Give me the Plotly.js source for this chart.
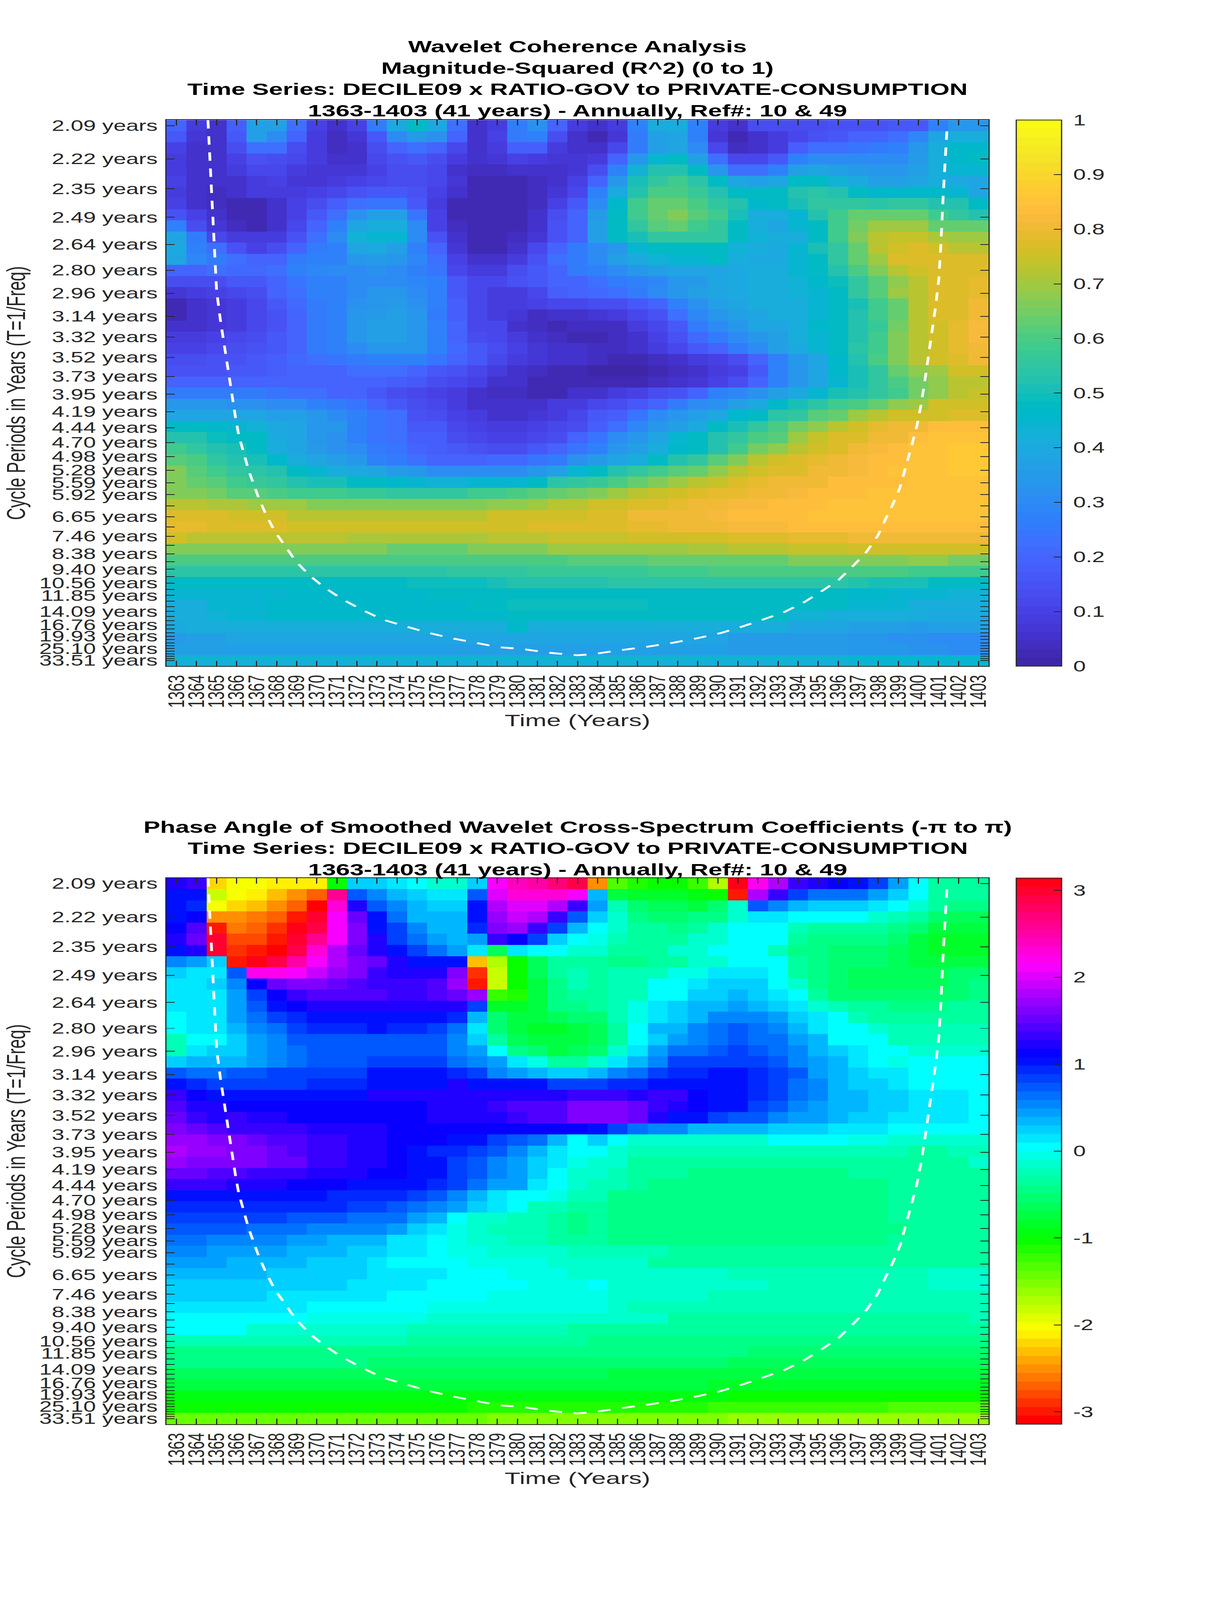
<!DOCTYPE html>
<html><head><meta charset="utf-8">
<script src="https://cdn.plot.ly/plotly-3.0.1.min.js"></script>
<style>html,body{margin:0;padding:0;background:#fff;overflow:hidden}#chart{width:3125px;height:6252px;transform-origin:0 0}</style>
</head><body><div id="chart"></div>
<script>
const years=[1363,1364,1365,1366,1367,1368,1369,1370,1371,1372,1373,1374,1375,1376,1377,1378,1379,1380,1381,1382,1383,1384,1385,1386,1387,1388,1389,1390,1391,1392,1393,1394,1395,1396,1397,1398,1399,1400,1401,1402,1403];
const tickPeriods=[2.09,2.22,2.35,2.49,2.64,2.80,2.96,3.14,3.32,3.52,3.73,3.95,4.19,4.44,4.70,4.98,5.28,5.59,5.92,6.27,6.65,7.05,7.46,7.91,8.38,8.88,9.40,9.96,10.56,11.19,11.85,12.55,13.30,14.09,14.93,15.82,16.76,17.75,18.81,19.93,21.11,22.37,23.70,25.10,26.60,28.18,29.85,31.63,33.51];
const tickLabels=['2.09 years','2.22 years','2.35 years','2.49 years','2.64 years','2.80 years','2.96 years','3.14 years','3.32 years','3.52 years','3.73 years','3.95 years','4.19 years','4.44 years','4.70 years','4.98 years','5.28 years','5.59 years','5.92 years','','6.65 years','','7.46 years','','8.38 years','','9.40 years','','10.56 years','','11.85 years','','','14.09 years','','','16.76 years','','','19.93 years','','','','25.10 years','','','','','33.51 years'];
const coiYears=[1364.57,1364.70,1364.86,1365.00,1365.19,1365.46,1365.70,1365.95,1366.10,1366.32,1366.59,1366.85,1367.12,1367.45,1367.90,1368.42,1368.93,1369.63,1370.35,1371.25,1372.20,1373.26,1374.31,1375.44,1376.65,1377.85,1379.08,1380.17,1381.58,1382.98,1383.72,1385.12,1386.43,1387.73,1389.04,1390.15,1391.18,1392.20,1393.33,1394.34,1395.27,1396.03,1396.78,1397.42,1397.98,1398.35,1398.72,1399.09,1399.39,1399.66,1399.93,1400.13,1400.32,1400.50,1400.69,1400.87,1401.02,1401.12,1401.24,1401.33,1401.43];
const coiPeriods=[2.07,2.28,2.63,2.94,3.17,3.50,3.86,4.29,4.56,4.85,5.27,5.63,6.05,6.54,7.24,7.94,8.81,9.87,10.94,12.27,13.72,15.55,16.95,18.66,20.5,22.2,24.4,25.2,27.5,29.2,28.5,26.0,24.2,22.4,20.5,18.9,17.2,15.65,14.16,12.64,11.24,10.25,9.11,8.26,7.43,6.76,6.23,5.71,5.19,4.77,4.41,4.10,3.79,3.52,3.27,3.05,2.86,2.65,2.38,2.23,2.10];
const coherence=[
[.2,.08,.05,.18,.36,.36,.22,.1,.05,.1,.25,.4,.47,.4,.23,.06,.09,.25,.32,.2,.09,.05,.09,.27,.42,.42,.27,.08,.05,.13,.14,.14,.14,.15,.15,.15,.16,.16,.27,.33,.34],
[.16,.07,.05,.17,.36,.3,.2,.09,.04,.07,.17,.3,.35,.32,.2,.06,.1,.26,.27,.13,.05,.03,.07,.26,.37,.38,.27,.07,.03,.06,.08,.12,.15,.17,.19,.2,.22,.29,.38,.42,.42],
[.1,.05,.06,.13,.22,.22,.14,.08,.04,.06,.13,.2,.23,.2,.12,.05,.08,.18,.18,.09,.05,.05,.12,.26,.37,.38,.3,.11,.04,.05,.09,.18,.22,.23,.24,.25,.27,.33,.41,.46,.46],
[.09,.05,.05,.1,.15,.14,.11,.08,.05,.06,.11,.15,.16,.14,.08,.05,.07,.1,.09,.07,.07,.09,.19,.33,.45,.47,.36,.22,.12,.12,.17,.28,.3,.3,.3,.3,.31,.35,.41,.46,.47],
[.09,.06,.05,.08,.11,.12,.09,.07,.07,.07,.1,.13,.13,.11,.06,.04,.04,.05,.05,.05,.07,.13,.28,.43,.53,.53,.47,.34,.23,.23,.28,.36,.38,.37,.35,.33,.33,.37,.41,.44,.45],
[.1,.06,.05,.06,.09,.1,.07,.07,.08,.1,.12,.14,.14,.12,.07,.03,.03,.03,.04,.06,.1,.19,.34,.5,.56,.58,.54,.47,.38,.36,.39,.47,.47,.43,.4,.37,.37,.39,.41,.4,.38],
[.09,.05,.04,.05,.08,.08,.09,.1,.12,.15,.16,.17,.15,.1,.05,.03,.03,.03,.04,.07,.12,.28,.4,.53,.6,.6,.57,.53,.47,.47,.47,.53,.54,.53,.47,.46,.46,.46,.46,.45,.39],
[.1,.05,.04,.03,.03,.05,.1,.14,.18,.22,.24,.24,.17,.09,.03,.03,.03,.03,.04,.1,.17,.31,.46,.58,.63,.63,.6,.56,.52,.46,.47,.51,.55,.56,.55,.54,.55,.55,.53,.52,.47],
[.15,.1,.05,.03,.03,.05,.1,.16,.23,.32,.36,.36,.24,.1,.03,.03,.03,.03,.05,.13,.2,.35,.47,.58,.64,.66,.62,.58,.5,.42,.41,.45,.53,.59,.63,.64,.64,.63,.59,.55,.52],
[.27,.14,.07,.04,.03,.06,.12,.2,.28,.38,.42,.42,.3,.1,.04,.03,.03,.03,.06,.15,.2,.37,.47,.55,.61,.63,.59,.55,.48,.42,.39,.44,.48,.59,.65,.69,.69,.69,.63,.63,.63],
[.38,.25,.12,.09,.08,.09,.15,.23,.3,.43,.45,.44,.3,.15,.05,.03,.03,.04,.07,.15,.2,.37,.47,.5,.55,.56,.55,.55,.47,.43,.41,.41,.47,.59,.66,.73,.74,.74,.71,.69,.69],
[.4,.28,.22,.15,.1,.13,.2,.25,.27,.38,.4,.37,.28,.2,.07,.03,.03,.06,.12,.2,.26,.3,.34,.44,.47,.47,.47,.47,.43,.41,.4,.44,.5,.55,.64,.73,.75,.77,.76,.72,.72],
[.38,.29,.25,.22,.19,.2,.25,.27,.27,.33,.35,.33,.29,.23,.1,.05,.05,.08,.15,.22,.26,.3,.37,.4,.43,.45,.45,.47,.42,.4,.4,.44,.48,.55,.63,.7,.77,.77,.77,.77,.77],
[.2,.2,.22,.21,.21,.23,.27,.29,.3,.31,.32,.3,.28,.24,.12,.09,.09,.13,.17,.2,.25,.28,.3,.33,.36,.38,.38,.39,.4,.41,.42,.45,.47,.53,.6,.66,.72,.75,.77,.77,.78],
[.13,.13,.14,.16,.17,.2,.24,.27,.28,.3,.31,.31,.29,.27,.17,.12,.11,.15,.16,.2,.2,.22,.26,.28,.29,.33,.35,.38,.4,.42,.42,.43,.46,.49,.55,.62,.68,.73,.77,.78,.79],
[.07,.08,.1,.12,.14,.19,.23,.27,.28,.31,.33,.33,.31,.28,.17,.12,.08,.09,.12,.18,.2,.21,.22,.26,.3,.33,.36,.38,.4,.41,.41,.43,.45,.48,.55,.62,.7,.73,.77,.78,.79],
[.03,.05,.07,.08,.11,.17,.21,.26,.28,.32,.34,.35,.32,.28,.18,.11,.08,.08,.1,.12,.12,.14,.14,.16,.2,.28,.32,.36,.38,.41,.41,.42,.45,.47,.5,.58,.63,.72,.77,.78,.8],
[.02,.05,.07,.08,.11,.15,.2,.26,.28,.33,.35,.36,.33,.26,.18,.11,.08,.07,.04,.05,.05,.07,.08,.12,.15,.22,.29,.34,.37,.39,.41,.42,.45,.47,.52,.58,.64,.72,.77,.78,.81],
[.05,.05,.07,.08,.12,.15,.2,.25,.28,.33,.36,.37,.34,.27,.2,.12,.11,.06,.04,.03,.04,.04,.04,.08,.12,.17,.26,.3,.33,.38,.39,.41,.46,.48,.52,.57,.65,.72,.75,.79,.82],
[.08,.08,.1,.11,.14,.16,.2,.25,.28,.33,.36,.37,.34,.28,.2,.14,.12,.08,.05,.04,.03,.03,.04,.06,.1,.15,.21,.26,.3,.34,.36,.41,.45,.48,.53,.59,.66,.72,.76,.79,.82],
[.1,.1,.12,.13,.15,.17,.2,.25,.27,.3,.34,.34,.33,.27,.21,.16,.14,.1,.07,.05,.05,.04,.04,.05,.08,.12,.17,.2,.25,.3,.36,.4,.44,.47,.54,.59,.66,.72,.75,.79,.81],
[.13,.14,.15,.15,.16,.18,.21,.23,.24,.25,.27,.28,.27,.24,.2,.17,.12,.09,.07,.06,.05,.04,.02,.03,.04,.06,.08,.1,.14,.2,.28,.33,.39,.46,.52,.6,.66,.72,.75,.78,.81],
[.15,.15,.15,.16,.17,.18,.2,.2,.2,.22,.22,.22,.2,.17,.15,.12,.08,.06,.04,.03,.03,.01,.01,.01,.03,.04,.05,.08,.1,.17,.28,.33,.38,.46,.5,.55,.63,.68,.7,.76,.76],
[.19,.19,.19,.19,.19,.19,.2,.2,.2,.2,.2,.18,.16,.13,.11,.1,.05,.05,.03,.03,.03,.03,.03,.03,.04,.06,.07,.1,.14,.2,.28,.33,.38,.45,.5,.55,.6,.65,.68,.72,.73],
[.25,.25,.25,.25,.25,.24,.22,.22,.2,.19,.17,.14,.12,.1,.08,.05,.04,.04,.03,.03,.05,.05,.08,.1,.13,.15,.19,.27,.29,.32,.36,.4,.45,.5,.53,.55,.58,.65,.68,.72,.74],
[.33,.33,.33,.32,.32,.31,.3,.27,.26,.24,.2,.17,.14,.12,.09,.06,.05,.05,.05,.08,.09,.12,.14,.17,.2,.26,.3,.32,.36,.4,.46,.5,.54,.58,.6,.63,.68,.7,.75,.75,.75],
[.38,.38,.38,.38,.38,.37,.36,.33,.3,.27,.24,.22,.15,.14,.1,.09,.06,.06,.07,.09,.12,.16,.18,.24,.3,.33,.36,.4,.46,.47,.54,.56,.62,.64,.7,.72,.75,.76,.76,.78,.77],
[.47,.47,.46,.45,.43,.4,.38,.34,.33,.28,.24,.22,.17,.17,.12,.1,.08,.08,.1,.12,.14,.18,.22,.29,.34,.36,.4,.47,.5,.56,.6,.65,.68,.72,.76,.79,.8,.8,.83,.83,.83],
[.53,.53,.49,.48,.47,.4,.38,.34,.32,.28,.24,.22,.18,.18,.14,.12,.1,.1,.12,.14,.2,.24,.3,.34,.38,.44,.48,.53,.55,.6,.62,.7,.74,.77,.78,.8,.81,.84,.85,.85,.85],
[.58,.55,.53,.5,.47,.41,.38,.35,.32,.3,.25,.24,.2,.18,.17,.15,.14,.14,.17,.2,.24,.28,.33,.36,.41,.46,.48,.52,.58,.65,.68,.72,.76,.78,.8,.82,.84,.85,.85,.86,.86],
[.62,.6,.56,.53,.5,.46,.41,.38,.36,.33,.28,.25,.22,.2,.2,.2,.21,.21,.24,.26,.32,.35,.38,.42,.47,.52,.56,.62,.67,.72,.75,.77,.79,.8,.82,.83,.84,.85,.85,.86,.86],
[.66,.62,.58,.56,.54,.52,.47,.45,.42,.4,.38,.35,.33,.31,.31,.3,.3,.31,.34,.36,.44,.47,.52,.55,.58,.62,.64,.68,.72,.75,.77,.78,.8,.81,.82,.83,.85,.85,.85,.86,.86],
[.66,.63,.62,.59,.57,.55,.53,.51,.5,.48,.47,.46,.45,.43,.43,.44,.44,.45,.47,.54,.56,.57,.6,.63,.66,.7,.73,.74,.77,.79,.8,.81,.81,.83,.83,.84,.84,.85,.85,.85,.85],
[.67,.67,.65,.62,.62,.6,.59,.58,.58,.57,.57,.56,.56,.55,.55,.58,.58,.6,.61,.63,.65,.67,.69,.72,.74,.76,.78,.79,.79,.8,.81,.82,.84,.84,.84,.85,.85,.85,.85,.85,.85],
[.72,.72,.71,.71,.7,.7,.69,.67,.67,.67,.67,.67,.66,.66,.66,.66,.68,.68,.7,.72,.73,.75,.76,.77,.78,.79,.81,.81,.82,.82,.83,.84,.84,.85,.85,.85,.85,.85,.85,.85,.85],
[.77,.77,.77,.76,.75,.75,.73,.73,.73,.72,.72,.72,.72,.72,.72,.72,.75,.75,.75,.76,.76,.78,.78,.8,.8,.81,.81,.82,.83,.84,.84,.84,.85,.85,.85,.85,.85,.85,.85,.85,.85],
[.79,.79,.78,.77,.77,.77,.75,.75,.75,.75,.75,.75,.75,.75,.75,.75,.75,.75,.77,.77,.77,.78,.78,.79,.79,.8,.81,.81,.82,.82,.82,.83,.83,.83,.83,.84,.84,.84,.84,.84,.84],
[.75,.73,.73,.73,.73,.72,.72,.72,.72,.71,.71,.71,.71,.71,.71,.71,.72,.72,.72,.74,.74,.74,.74,.75,.75,.76,.76,.76,.78,.78,.78,.79,.79,.79,.8,.8,.8,.8,.8,.8,.8],
[.67,.67,.67,.67,.67,.66,.66,.66,.66,.66,.66,.64,.64,.64,.64,.66,.66,.67,.67,.69,.69,.69,.69,.69,.7,.7,.71,.71,.72,.72,.72,.74,.74,.74,.75,.75,.75,.75,.75,.75,.75],
[.6,.6,.6,.6,.6,.6,.6,.6,.6,.6,.6,.6,.6,.6,.6,.6,.6,.6,.6,.6,.62,.62,.62,.62,.63,.63,.63,.64,.64,.64,.64,.66,.66,.67,.67,.67,.67,.68,.68,.65,.65],
[.54,.54,.54,.54,.54,.54,.54,.54,.54,.54,.54,.54,.54,.54,.55,.55,.55,.55,.57,.57,.57,.57,.57,.57,.58,.58,.58,.6,.6,.6,.6,.6,.6,.6,.6,.6,.6,.58,.58,.58,.58],
[.47,.47,.47,.47,.47,.47,.47,.48,.48,.48,.48,.48,.49,.49,.49,.49,.5,.53,.53,.53,.53,.53,.54,.54,.54,.54,.54,.54,.54,.54,.54,.54,.54,.54,.52,.51,.51,.51,.48,.48,.48],
[.44,.44,.45,.45,.45,.45,.46,.46,.46,.46,.46,.46,.46,.47,.47,.47,.47,.47,.47,.47,.47,.47,.47,.48,.48,.48,.48,.48,.47,.47,.47,.47,.47,.47,.46,.46,.45,.45,.45,.43,.43],
[.42,.42,.44,.45,.45,.46,.46,.46,.46,.46,.46,.46,.46,.46,.46,.47,.48,.49,.49,.49,.49,.49,.49,.49,.47,.47,.47,.47,.47,.47,.47,.47,.47,.47,.45,.45,.45,.42,.42,.42,.42],
[.42,.42,.43,.45,.45,.46,.46,.46,.46,.46,.46,.46,.46,.46,.46,.46,.46,.47,.47,.47,.47,.47,.47,.47,.47,.47,.47,.47,.47,.47,.47,.43,.43,.42,.42,.41,.41,.41,.4,.4,.4],
[.4,.41,.41,.42,.42,.42,.42,.42,.42,.42,.42,.42,.42,.42,.42,.42,.42,.46,.42,.42,.42,.42,.42,.42,.41,.41,.41,.41,.41,.41,.41,.38,.38,.38,.37,.37,.36,.35,.36,.36,.36],
[.35,.37,.37,.38,.38,.38,.38,.39,.39,.39,.39,.39,.39,.39,.39,.39,.39,.38,.38,.38,.38,.38,.38,.38,.38,.38,.38,.38,.35,.35,.35,.35,.35,.35,.33,.33,.32,.32,.31,.31,.31],
[.36,.37,.37,.37,.37,.37,.37,.37,.37,.37,.37,.37,.37,.37,.37,.37,.37,.37,.37,.37,.37,.37,.37,.37,.37,.37,.37,.37,.35,.35,.35,.35,.35,.35,.33,.33,.33,.32,.32,.31,.31],
[.43,.43,.43,.43,.43,.43,.43,.43,.43,.43,.43,.43,.43,.43,.43,.43,.43,.43,.43,.43,.43,.43,.43,.43,.43,.43,.43,.43,.43,.43,.43,.43,.43,.43,.44,.44,.44,.44,.45,.45,.45]
];
const phase=[
[1.25,1.3,-2.25,-2.05,-2,-2.15,-2.15,-2.12,-1,.25,.25,.15,.05,-.1,-.1,.25,2.1,2.4,2.5,2.7,2.9,-2.55,-1.3,-1.1,-1.05,-1.05,-1.25,-1.7,3.14,2.2,1.85,1.35,1.2,1.1,1.05,.85,.45,0,-.35,-.35,-.35],
[1.03,1,-1.85,-2,-2.15,-2.35,-2.5,-2.7,2.6,.7,.5,.32,.2,.1,.1,.7,2.05,2.35,2.35,2.35,2.15,.35,-.7,-.8,-.85,-.85,-.9,-1.05,-2.95,1.85,1.3,.8,.6,.6,.6,.45,.25,0,-.3,-.35,-.35],
[1,.9,-2.05,-2.25,-2.35,-2.5,-2.7,-3.05,2.3,1.2,.7,.5,.3,.25,.25,1,1.85,2.05,2.05,1.85,1.3,.4,-.2,-.5,-.6,-.6,-.7,-.55,-.1,.7,.5,.3,.25,.25,.25,.15,0,-.1,-.3,-.4,-.45],
[1,1.15,-2.5,-2.5,-2.6,-2.7,-2.95,2.95,2.15,1.5,1,.65,.38,.35,.32,1,1.75,1.9,1.85,1.3,.7,.2,-.15,-.45,-.5,-.5,-.45,-.4,-.1,.1,.1,0,0,0,0,-.1,-.25,-.35,-.55,-.6,-.6],
[1.15,1.45,-2.95,-2.6,-2.7,-2.85,3.14,2.85,2.1,1.6,1.05,.85,.5,.32,.32,.9,1.65,1.7,1.3,.85,.3,.05,-.15,-.35,-.35,-.45,-.35,-.15,0,0,0,-.2,-.3,-.35,-.35,-.35,-.45,-.5,-.7,-.75,-.75],
[1.25,1.55,2.95,-2.8,-2.8,-2.95,2.95,2.6,2.1,1.6,1.2,.85,.6,.45,.35,.48,1.3,1.15,.8,.25,0,-.05,-.25,-.3,-.3,-.3,-.15,-.1,0,0,0,-.3,-.4,-.45,-.45,-.45,-.55,-.7,-.85,-.85,-.85],
[1.05,1.2,2.95,-2.9,-3,-3.1,2.85,2.35,1.85,1.55,1.25,1.05,.8,.62,.45,.1,-.65,.15,.05,.02,-.15,-.1,-.3,-.3,-.3,-.15,-.15,0,0,0,-.2,-.4,-.45,-.55,-.55,-.55,-.6,-.7,-.85,-.85,-.8],
[.55,.4,.2,-3,3.1,2.85,2.55,2.15,1.85,1.65,1.5,1.25,1.05,1,1,-2.3,-1.75,-1.05,-.65,-.35,-.35,-.35,-.4,-.4,-.3,-.3,-.15,-.1,.08,.05,0,-.3,-.45,-.55,-.55,-.55,-.6,-.7,-.72,-.7,-.7],
[.25,.1,.1,.7,2.2,2.2,2.15,1.95,1.75,1.6,1.35,1.25,1.25,1.25,1.65,-2.85,-1.85,-1.05,-.65,-.35,-.25,-.35,-.2,-.2,-.2,-.05,-.05,.1,.1,.1,0,-.3,-.45,-.5,-.6,-.6,-.6,-.6,-.6,-.55,-.55],
[.1,.1,.2,.55,1.1,1.55,1.6,1.6,1.55,1.45,1.35,1.35,1.35,1.4,1.75,-3,-1.8,-1,-.7,-.4,-.25,-.3,-.2,-.2,0,0,.15,.2,.2,.2,0,-.15,-.4,-.5,-.6,-.6,-.6,-.6,-.6,-.55,-.45],
[.1,.1,.15,.4,.85,1.1,1.3,1.4,1.4,1.4,1.4,1.35,1.35,1.4,1.55,1.75,-1.25,-1.1,-.75,-.45,-.35,-.35,-.2,-.2,0,.08,.25,.25,.38,.25,.18,0,-.35,-.5,-.5,-.5,-.5,-.5,-.5,-.5,-.45],
[.1,.1,.15,.4,.75,1,1.15,1.25,1.25,1.25,1.25,1.25,1.25,1.25,1.2,.8,-.8,-.8,-.7,-.45,-.4,-.35,-.2,-.05,.1,.2,.3,.3,.45,.3,.2,.1,-.15,-.2,-.35,-.35,-.45,-.45,-.4,-.35,-.35],
[0,.1,.15,.4,.65,.85,.95,1,1.05,1.05,1.05,1.05,1.05,1,.9,.35,-.55,-.7,-.7,-.65,-.55,-.5,-.2,-.05,.1,.2,.35,.5,.55,.55,.45,.25,.1,.02,-.2,-.3,-.3,-.3,-.3,-.3,-.3],
[.02,.1,.15,.3,.55,.65,.85,.9,.9,.9,1.03,.9,.9,.85,.65,.1,-.55,-.75,-.8,-.8,-.75,-.6,-.3,0,.3,.35,.5,.6,.7,.65,.55,.35,.15,.05,0,-.1,-.25,-.25,-.25,-.25,-.25],
[-.2,0,.05,.25,.4,.5,.7,.7,.75,.75,.75,.75,.75,.7,.55,.25,-.3,-.6,-.75,-.75,-.7,-.6,-.3,0,.25,.45,.55,.65,.75,.65,.65,.45,.35,.08,0,0,-.2,-.22,-.22,-.22,-.22],
[-.25,.1,.2,.25,.4,.5,.6,.7,.75,.75,.75,.75,.75,.7,.55,.4,0,-.4,-.55,-.7,-.65,-.55,-.1,.15,.4,.6,.65,.7,.85,.75,.65,.55,.3,.2,.1,0,0,-.15,-.15,-.15,-.15],
[.2,.35,.35,.35,.4,.55,.65,.75,.75,.75,.85,.85,.85,.8,.65,.5,.4,.1,-.05,-.3,-.35,-.1,.15,.35,.55,.8,.85,.85,.85,.85,.7,.55,.4,.3,.1,0,-.02,0,0,0,0],
[.75,.6,.6,.7,.7,.8,.8,.85,.85,.85,1,1,1,1,.9,.8,.55,.4,.35,.25,.25,.35,.55,.65,.8,.9,.9,1.02,1,.95,.85,.7,.45,.3,.2,.1,.1,0,0,0,0],
[1.02,.95,.8,.8,.8,.8,.8,.95,.95,.95,1.02,1.05,1.05,1.05,1.25,1,1,1,1,.85,.8,.8,.95,.95,1,1.02,1.02,1.05,1.05,.95,.85,.65,.5,.38,.25,.2,.1,.05,0,0,0],
[1.3,1.15,1.03,1.03,1,1,1.05,1.05,1.05,1.05,1.2,1.2,1.2,1.2,1.25,1.25,1.25,1.25,1.25,1.25,1.35,1.35,1.35,1.25,1.3,1.3,1.15,1.05,1.03,.95,.85,.6,.5,.38,.3,.25,.22,.15,.15,.15,0],
[1.4,1.2,1.2,1.15,1.15,1.15,1.15,1.15,1.15,1.15,1.15,1.15,1.15,1.25,1.25,1.25,1.35,1.4,1.45,1.45,1.6,1.65,1.65,1.5,1.35,1.25,1.15,1.05,1.03,.8,.7,.55,.45,.38,.3,.25,.22,.15,.15,.15,0],
[1.55,1.35,1.25,1.3,1.25,1.25,1.15,1.15,1.15,1.15,1.15,1.15,1.15,1.25,1.25,1.25,1.25,1.35,1.45,1.45,1.6,1.65,1.65,1.5,1.2,1.05,1,.85,.75,.7,.5,.45,.4,.3,.25,.25,.1,.1,.1,.1,0],
[1.6,1.55,1.45,1.35,1.35,1.3,1.3,1.2,1.2,1.2,1.2,1.15,1.15,1.15,1.15,1.15,1.15,1.15,1.15,1.15,1.15,1.03,.8,.65,.5,.5,.35,.35,.3,.3,.2,.2,.2,.15,.15,.15,0,0,0,0,0],
[1.75,1.75,1.65,1.6,1.55,1.4,1.4,1.35,1.3,1.25,1.25,1.15,1.15,1.15,1.05,1,.85,.75,.6,.3,.05,.22,0,-.15,-.15,-.15,-.15,-.15,-.15,-.15,0,0,0,0,-.05,-.05,-.1,-.15,-.15,-.15,-.15],
[1.8,1.75,1.7,1.6,1.6,1.5,1.4,1.35,1.3,1.25,1.2,1.15,1.05,.95,.9,.8,.7,.55,.35,.15,0,.05,-.1,-.25,-.25,-.25,-.25,-.25,-.25,-.2,-.2,-.2,-.2,-.2,-.2,-.2,-.2,-.3,-.3,-.25,-.25],
[1.75,1.65,1.65,1.6,1.6,1.5,1.5,1.35,1.3,1.2,1.2,1.1,1.03,1,.8,.7,.55,.4,.2,.1,-.02,-.1,-.15,-.3,-.3,-.3,-.3,-.3,-.3,-.3,-.3,-.3,-.3,-.3,-.3,-.3,-.3,-.3,-.3,-.3,-.15],
[1.5,1.5,1.45,1.4,1.35,1.35,1.35,1.25,1.25,1.25,1.15,1.15,1.05,1,.85,.75,.55,.4,.2,.08,-.1,-.15,-.2,-.3,-.3,-.35,-.4,-.4,-.4,-.4,-.4,-.4,-.4,-.4,-.3,-.3,-.3,-.3,-.3,-.3,-.3],
[1.3,1.3,1.3,1.25,1.25,1.25,1.15,1.15,1.15,1.05,1.05,1.03,1,.9,.8,.6,.45,.4,.15,0,-.15,-.2,-.2,-.3,-.4,-.4,-.4,-.4,-.4,-.4,-.4,-.4,-.4,-.4,-.4,-.4,-.3,-.3,-.3,-.3,-.3],
[1.05,1.05,1.05,1.03,1.03,1.03,1.03,1.03,.95,.95,.95,.9,.8,.75,.55,.35,.15,.05,.02,-.05,-.2,-.25,-.4,-.4,-.4,-.4,-.4,-.4,-.4,-.4,-.4,-.4,-.4,-.4,-.4,-.4,-.3,-.3,-.3,-.3,-.3],
[.97,.97,.97,.95,.9,.9,.9,.9,.9,.8,.8,.7,.6,.55,.4,.25,.15,0,-.2,-.25,-.35,-.35,-.4,-.4,-.4,-.45,-.45,-.45,-.4,-.4,-.4,-.4,-.4,-.4,-.4,-.4,-.3,-.3,-.3,-.3,-.3],
[.85,.85,.85,.85,.85,.85,.75,.75,.7,.65,.6,.6,.45,.35,.05,-.1,-.15,-.2,-.25,-.35,-.4,-.38,-.4,-.45,-.45,-.45,-.45,-.45,-.45,-.45,-.4,-.4,-.4,-.4,-.4,-.4,-.3,-.3,-.3,-.3,-.3],
[.75,.75,.75,.75,.65,.65,.65,.55,.55,.5,.5,.4,.25,.1,-.05,-.1,-.2,-.2,-.25,-.3,-.4,-.38,-.4,-.4,-.45,-.45,-.45,-.45,-.45,-.4,-.4,-.4,-.4,-.4,-.4,-.4,-.4,-.35,-.35,-.35,-.35],
[.6,.6,.55,.55,.55,.55,.45,.45,.38,.38,.32,.15,.15,0,-.05,-.1,-.15,-.2,-.2,-.3,-.35,-.35,-.4,-.4,-.4,-.4,-.4,-.4,-.4,-.4,-.4,-.4,-.4,-.4,-.4,-.4,-.35,-.35,-.35,-.35,-.35],
[.5,.5,.4,.4,.4,.4,.35,.35,.3,.25,.25,.1,.1,0,-.03,-.08,-.1,-.1,-.1,-.15,-.2,-.2,-.25,-.25,-.25,-.35,-.35,-.35,-.35,-.35,-.35,-.35,-.35,-.35,-.35,-.35,-.35,-.35,-.35,-.35,-.35],
[.4,.4,.4,.32,.32,.32,.32,.22,.22,.2,.15,.08,.08,0,0,-.05,-.08,-.08,-.08,-.15,-.15,-.15,-.15,-.15,-.3,-.3,-.3,-.3,-.3,-.3,-.3,-.3,-.3,-.3,-.3,-.3,-.3,-.3,-.3,-.3,-.3],
[.35,.3,.3,.3,.3,.28,.22,.22,.22,.2,.15,.1,.1,.1,0,0,0,-.02,-.08,-.08,-.1,-.1,-.12,-.15,-.15,-.15,-.15,-.15,-.28,-.28,-.28,-.28,-.28,-.28,-.28,-.28,-.28,-.28,-.15,-.15,-.15],
[.25,.25,.25,.25,.25,.25,.25,.25,.25,.12,.12,.12,.12,0,0,0,0,0,-.05,-.05,-.05,.02,-.12,-.15,-.15,-.15,-.15,-.15,-.15,-.15,-.28,-.28,-.28,-.28,-.28,-.28,-.28,-.28,-.15,-.15,-.15],
[.25,.25,.25,.25,.25,.15,.15,.12,.12,.12,.12,.02,0,0,0,0,-.02,-.05,-.05,-.05,-.08,-.08,-.1,-.15,-.15,-.15,-.15,-.25,-.25,-.25,-.25,-.25,-.25,-.25,-.25,-.25,-.25,-.25,-.25,-.25,-.25],
[.15,.15,.15,.15,.15,.15,.15,0,0,0,0,0,0,-.05,-.05,-.05,-.05,-.05,-.08,-.08,-.08,-.08,-.1,-.25,-.25,-.25,-.25,-.25,-.25,-.25,-.25,-.25,-.25,-.25,-.25,-.25,-.25,-.25,-.25,-.25,-.25],
[0,0,0,0,0,0,0,-.05,-.05,-.05,-.05,-.05,-.05,-.12,-.12,-.12,-.12,-.12,-.12,-.12,-.12,-.12,-.12,-.12,-.12,-.35,-.35,-.35,-.35,-.35,-.35,-.35,-.35,-.35,-.35,-.35,-.35,-.35,-.35,-.35,-.2],
[.05,.05,.05,.05,-.1,-.12,-.12,-.12,-.12,-.12,-.12,-.12,-.25,-.25,-.25,-.25,-.25,-.25,-.25,-.25,-.3,-.3,-.3,-.3,-.3,-.3,-.3,-.3,-.35,-.35,-.35,-.35,-.35,-.35,-.35,-.35,-.35,-.35,-.35,-.35,-.35],
[-.25,-.25,-.25,-.25,-.25,-.25,-.25,-.25,-.25,-.25,-.25,-.25,-.35,-.35,-.35,-.35,-.35,-.35,-.35,-.35,-.35,-.4,-.4,-.4,-.4,-.4,-.4,-.4,-.4,-.4,-.4,-.4,-.4,-.4,-.4,-.4,-.4,-.4,-.4,-.4,-.4],
[-.4,-.4,-.4,-.4,-.4,-.4,-.4,-.4,-.4,-.4,-.4,-.4,-.4,-.4,-.45,-.45,-.45,-.45,-.45,-.45,-.45,-.45,-.45,-.45,-.45,-.45,-.45,-.45,-.45,-.55,-.55,-.55,-.55,-.55,-.55,-.55,-.55,-.55,-.55,-.55,-.55],
[-.42,-.42,-.42,-.42,-.42,-.42,-.42,-.42,-.42,-.42,-.52,-.52,-.52,-.52,-.52,-.52,-.52,-.52,-.52,-.52,-.52,-.52,-.52,-.52,-.52,-.52,-.52,-.52,-.6,-.6,-.6,-.6,-.6,-.6,-.6,-.6,-.6,-.6,-.6,-.6,-.6],
[-.62,-.62,-.62,-.62,-.62,-.62,-.62,-.62,-.62,-.62,-.62,-.62,-.62,-.62,-.62,-.62,-.62,-.62,-.62,-.62,-.62,-.62,-.7,-.7,-.7,-.7,-.7,-.7,-.7,-.7,-.7,-.7,-.7,-.7,-.7,-.7,-.7,-.7,-.7,-.7,-.7],
[-.75,-.75,-.75,-.75,-.75,-.75,-.75,-.75,-.75,-.75,-.75,-.75,-.75,-.75,-.75,-.75,-.75,-.75,-.75,-.75,-.75,-.75,-.75,-.75,-.75,-.75,-.75,-.82,-.82,-.82,-.82,-.82,-.82,-.82,-.82,-.82,-.82,-.82,-.82,-.82,-.82],
[-.9,-.9,-.9,-.9,-.9,-.9,-.9,-.9,-.9,-.9,-.9,-.9,-.9,-.9,-.9,-.98,-.98,-.98,-.98,-.98,-.98,-.98,-.98,-.98,-.98,-.98,-.98,-.98,-1,-1,-1,-1,-1,-1,-1,-1,-1,-1,-1,-1,-1],
[-1.05,-1.05,-1.05,-1.05,-1.05,-1.05,-1.05,-1.05,-1.05,-1.05,-1.05,-1.05,-1.05,-1.05,-1.05,-1.1,-1.1,-1.1,-1.1,-1.1,-1.1,-1.1,-1.1,-1.1,-1.1,-1.1,-1.1,-1.2,-1.2,-1.2,-1.2,-1.2,-1.2,-1.2,-1.2,-1.2,-1.3,-1.3,-1.3,-1.3,-1.3],
[-1.4,-1.4,-1.4,-1.4,-1.4,-1.4,-1.4,-1.4,-1.4,-1.4,-1.4,-1.4,-1.4,-1.4,-1.4,-1.4,-1.5,-1.5,-1.5,-1.5,-1.5,-1.5,-1.5,-1.5,-1.5,-1.5,-1.5,-1.5,-1.6,-1.6,-1.6,-1.6,-1.6,-1.6,-1.6,-1.6,-1.6,-1.6,-1.6,-1.6,-1.6]
];
const parula=[[.2422,.1504,.6603],[.2504,.1650,.7076],[.2578,.1818,.7511],[.2647,.1978,.7952],[.2706,.2147,.8364],[.2751,.2342,.8710],[.2783,.2559,.8991],[.2803,.2782,.9221],[.2813,.3006,.9414],[.2810,.3228,.9579],[.2795,.3447,.9717],[.2760,.3667,.9829],[.2699,.3892,.9906],[.2602,.4123,.9952],[.2440,.4358,.9988],[.2206,.4603,.9973],[.1963,.4847,.9892],[.1834,.5074,.9798],[.1786,.5289,.9682],[.1764,.5499,.9520],[.1687,.5703,.9359],[.1540,.5902,.9218],[.1460,.6091,.9079],[.1380,.6276,.8973],[.1248,.6459,.8883],[.1113,.6635,.8763],[.0952,.6798,.8598],[.0689,.6948,.8394],[.0297,.7082,.8163],[.0036,.7203,.7917],[.0067,.7312,.7660],[.0433,.7411,.7394],[.0964,.7500,.7120],[.1408,.7584,.6842],[.1717,.7670,.6554],[.1938,.7758,.6251],[.2161,.7843,.5923],[.2470,.7918,.5567],[.2906,.7973,.5188],[.3406,.8008,.4789],[.3909,.8029,.4354],[.4456,.8024,.3909],[.5044,.7993,.3480],[.5616,.7942,.3045],[.6174,.7876,.2612],[.6720,.7793,.2227],[.7242,.7698,.1910],[.7738,.7598,.1646],[.8203,.7498,.1535],[.8634,.7406,.1596],[.9035,.7330,.1774],[.9393,.7288,.2100],[.9728,.7298,.2394],[.9956,.7434,.2371],[.9970,.7659,.2199],[.9952,.7893,.2028],[.9892,.8136,.1885],[.9786,.8386,.1766],[.9676,.8639,.1643],[.9610,.8890,.1537],[.9597,.9135,.1423],[.9628,.9373,.1265],[.9691,.9606,.1064],[.9769,.9839,.0805]];
function css(c){return 'rgb('+c.map(v=>Math.round(v*255)).join(',')+')';}
function stepped(cols){const n=cols.length,s=[];cols.forEach((c,i)=>{s.push([i/n,css(c)]);s.push([(i+1)/n,css(c)]);});return s;}
function hsv(h){const k=n=>{const m=(n+h*6)%6;return 1-Math.max(0,Math.min(m,4-m,1));};return [k(5),k(3),k(1)];}
const hsvCols=[];for(let i=0;i<64;i++)hsvCols.push(hsv(i/64));

const W=3125,H=6252,INK='#262626',FONT='"Liberation Sans",Arial,sans-serif',TICK=58,AXT=66;
const fTop=.4785,fBottom=.0298,dF=(fTop-fBottom)/48,rowFreq=coherence.map((_,i)=>fTop-i*dF);
const range=[fBottom-dF/2,fTop+dF/2];
const PX={l:426,r:2530,cbl:2601,cbw:116};
const P1={t:469,b:2603},P2={t:3431,b:5565};
const xDom=[PX.l/W,PX.r/W],dom=p=>[1-p.b/H,1-p.t/H];
const coiFreq=coiPeriods.map(t=>1/t);
function xax(d,anchor){return{domain:xDom,anchor,range:[1362.5,1403.5],tickmode:'array',tickvals:years,ticktext:years.map(String),tickangle:-90,ticks:'inside',ticklen:21,tickwidth:2.5,tickcolor:INK,showline:true,linewidth:3,linecolor:INK,mirror:'ticks',showgrid:false,zeroline:false,tickfont:{family:FONT,size:TICK,color:INK},ticklabelstandoff:8,title:{text:'Time (Years)',font:{family:FONT,size:AXT,color:INK},standoff:26}};}
function yax(p,anchor){return{domain:dom(p),anchor,range,tickmode:'array',tickvals:tickPeriods.map(t=>1/t),ticktext:tickLabels,ticks:'inside',ticklen:21,tickwidth:2.5,tickcolor:INK,showline:true,linewidth:3,linecolor:INK,mirror:'ticks',showgrid:false,zeroline:false,tickfont:{family:FONT,size:TICK,color:INK},ticklabelstandoff:8,title:{text:'Cycle Periods in Years (T=1/Freq)',font:{family:FONT,size:AXT,color:INK},standoff:15}};}
function cbar(p,vals,txt){return{xref:'paper',x:PX.cbl/W,xanchor:'left',xpad:0,ypad:0,yref:'paper',y:1-(p.t+p.b)/2/H,yanchor:'middle',len:(p.b-p.t)/H,lenmode:'fraction',thickness:PX.cbw,thicknessmode:'pixels',outlinecolor:INK,outlinewidth:3,ticks:'inside',ticklen:21,tickwidth:2.5,tickcolor:INK,tickmode:'array',tickvals:vals,ticktext:txt.map(s=>'\u00a0'+s),tickfont:{family:FONT,size:TICK,color:INK}};}
const traces=[
{type:'heatmap',x:years,y:rowFreq,z:coherence,xaxis:'x',yaxis:'y',zmin:0,zmax:1,zsmooth:false,colorscale:stepped(parula),hoverinfo:'skip',colorbar:cbar(P1,[0,.1,.2,.3,.4,.5,.6,.7,.8,.9,1],['0','0.1','0.2','0.3','0.4','0.5','0.6','0.7','0.8','0.9','1'])},
{type:'heatmap',x:years,y:rowFreq,z:phase,xaxis:'x2',yaxis:'y2',zmin:-Math.PI,zmax:Math.PI,zsmooth:false,colorscale:stepped(hsvCols),hoverinfo:'skip',colorbar:cbar(P2,[-3,-2,-1,0,1,2,3],['-3','-2','-1','0','1','2','3'])},
{type:'scatter',mode:'lines',x:coiYears,y:coiFreq,xaxis:'x',yaxis:'y',line:{color:'#fff',width:7,dash:'33px,30px'},showlegend:false,hoverinfo:'skip'},
{type:'scatter',mode:'lines',x:coiYears,y:coiFreq,xaxis:'x2',yaxis:'y2',line:{color:'#fff',width:7,dash:'33px,30px'},showlegend:false,hoverinfo:'skip'}
];
const titleFont={family:FONT,size:64,color:'#000',weight:700};
const layout={width:W,height:H,margin:{l:0,r:0,t:0,b:0},paper_bgcolor:'#fff',plot_bgcolor:'#fff',showlegend:false,
title:{text:'Wavelet Coherence Analysis<br>Magnitude-Squared (R^2) (0 to 1)<br>Time Series: DECILE09 x RATIO-GOV to PRIVATE-CONSUMPTION<br>1363-1403 (41 years) - Annually, Ref#: 10 & 49',font:titleFont,xref:'paper',x:(PX.l+PX.r)/2/W,xanchor:'center',yref:'paper',y:1-205/H,yanchor:'top',pad:{t:0,b:0,l:0,r:0}},
xaxis:xax(P1,'y'),yaxis:yax(P1,'x'),xaxis2:xax(P2,'y2'),yaxis2:yax(P2,'x2'),
annotations:[{xref:'paper',yref:'paper',x:(PX.l+PX.r)/2/W,y:1-(P2.t+5)/H,xanchor:'center',yanchor:'bottom',showarrow:false,align:'center',font:titleFont,text:'Phase Angle of Smoothed Wavelet Cross-Spectrum Coefficients (-π to π)<br>Time Series: DECILE09 x RATIO-GOV to PRIVATE-CONSUMPTION<br>1363-1403 (41 years) - Annually, Ref#: 10 & 49'}]};
Plotly.newPlot('chart',traces,layout,{displayModeBar:false,responsive:false}).then(()=>{
  const fit=Math.min(1,window.innerHeight/H);
  if(fit<1)document.getElementById('chart').style.transform='scale(1,'+fit+')';
});
</script></body></html>
